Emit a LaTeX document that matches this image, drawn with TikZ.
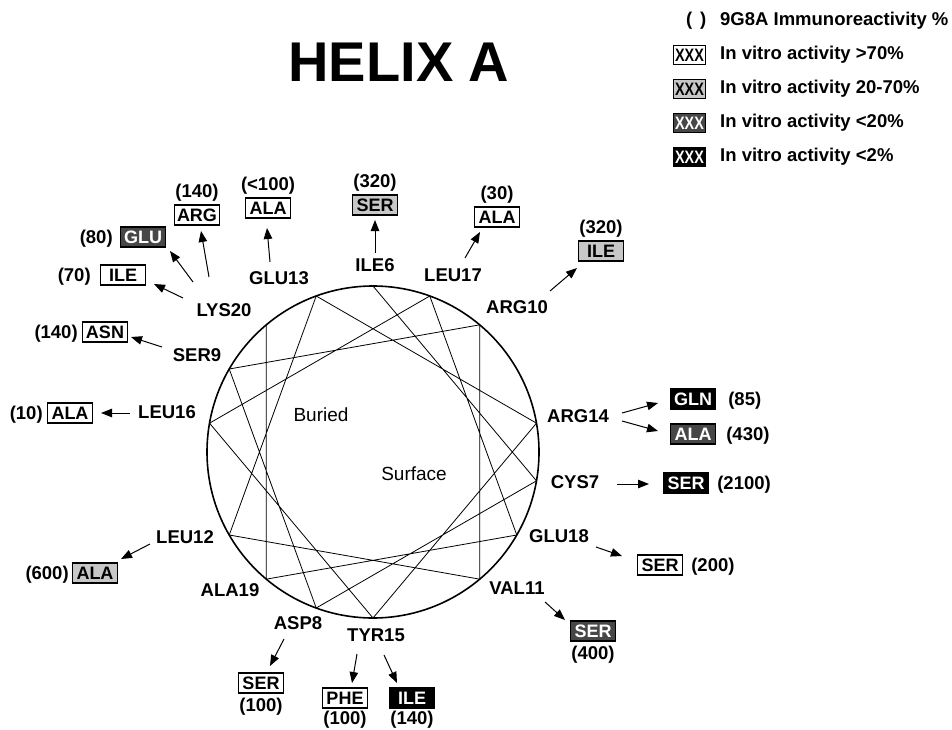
\documentclass[tikz,border=0pt]{standalone}
\usepackage{fontspec}
\setmainfont{Liberation Sans}
\newfontfamily\keyfont[FakeStretch=0.8]{Liberation Sans}
\usetikzlibrary{arrows.meta, positioning}

\begin{document}
\begin{tikzpicture}[
  x=1pt, y=-1pt,
  node distance=4pt,
  res/.style={font=\bfseries\fontsize{18.5}{20}\selectfont, inner sep=0pt, text height=13pt, text depth=0pt},
  val/.style={font=\bfseries\fontsize{18.5}{20}\selectfont, inner sep=0pt, text height=13pt, text depth=0pt},
  mut/.style={draw, line width=1.2pt, font=\bfseries\fontsize{18}{20}\selectfont, minimum width=45pt, minimum height=20pt, inner sep=0pt, text height=13pt, text depth=0pt},
  full/.style={fill=white},
  part/.style={fill=black!22},
  weak/.style={fill=black!72, text=white},
  null/.style={fill=black, text=white},
  keybox/.style={draw, line width=1.2pt, font=\keyfont\bfseries\fontsize{18}{18}\selectfont, minimum height=19pt, inner xsep=1.5pt, inner ysep=0pt, text height=12.5pt, text depth=0pt},
  key/.style={font=\bfseries\fontsize{18.5}{20}\selectfont, inner sep=0pt, anchor=west},
  arrow/.style={-{Triangle[length=11pt,width=8.5pt]}, line width=1pt},
  chord/.style={line width=0.8pt}
]
\useasboundingbox (0,0) rectangle (952,730);

\node[font=\bfseries\fontsize{56}{60}\selectfont] (title) at (399,62) {HELIX A};

% legend
\node[key] (k1) at (720,21) {9G8A Immunoreactivity \%};
\node[key] (k2) at (720,55) {In vitro activity >70\%};
\node[key] (k3) at (720,89) {In vitro activity 20-70\%};
\node[key] (k4) at (720,123) {In vitro activity <20\%};
\node[key] (k5) at (720,157) {In vitro activity <2\%};
\node[key] (kl) at (686,21) {(};
\node[key] (kr) at (700,21) {)};
\node[keybox, full, left=14pt of k2] (b2) {XXX};
\node[keybox, part, left=14pt of k3] (b3) {XXX};
\node[keybox, weak, left=14pt of k4] (b4) {XXX};
\node[keybox, null, left=14pt of k5] (b5) {XXX};

% helical wheel, 100 degrees per residue
\coordinate (c) at (373,452);
\foreach \n in {6,...,20}
  \coordinate (p\n) at ({373+166*cos(90-100*(\n-6))},{452-166*sin(90-100*(\n-6))});
\draw[chord] (p6) \foreach \n in {7,...,20} { -- (p\n) };
\draw[line width=1.6pt] (c) circle (166pt);

\node[font=\fontsize{19}{20}\selectfont] (buried) at (321,415) {Buried};
\node[font=\fontsize{19}{20}\selectfont] (surface) at (414,474) {Surface};

% residues
\node[res] (ile6)  at (375,265) {ILE6};
\node[res] (cys7)  at (575,482) {CYS7};
\node[res] (asp8)  at (298,623) {ASP8};
\node[res] (ser9)  at (197,355) {SER9};
\node[res] (arg10) at (517,307) {ARG10};
\node[res] (val11) at (517,588) {VAL11};
\node[res] (leu12) at (185,537) {LEU12};
\node[res] (glu13) at (279,278) {GLU13};
\node[res] (arg14) at (578,416) {ARG14};
\node[res] (tyr15) at (376,635) {TYR15};
\node[res] (leu16) at (167,412) {LEU16};
\node[res] (leu17) at (453,275) {LEU17};
\node[res] (glu18) at (559,536) {GLU18};
\node[res] (ala19) at (230,590) {ALA19};
\node[res] (lys20) at (224,310) {LYS20};

% substitutions
\node[mut, part] (ile6ser)  at (375,205) {SER};
\node[mut, full] (leu17ala) at (497,217) {ALA};
\node[mut, part] (arg10ile) at (601,251) {ILE};
\node[mut, full] (glu13ala) at (268,208) {ALA};
\node[mut, full] (lys20arg) at (197,215) {ARG};
\node[mut, weak] (lys20glu) at (143,237) {GLU};
\node[mut, full] (lys20ile) at (123,275) {ILE};
\node[mut, full] (ser9asn)  at (105,332) {ASN};
\node[mut, full] (leu16ala) at (70,413) {ALA};
\node[mut, part] (leu12ala) at (95,573) {ALA};
\node[mut, full] (asp8ser)  at (261,683) {SER};
\node[mut, full] (tyr15phe) at (345,698) {PHE};
\node[mut, null] (tyr15ile) at (412,698) {ILE};
\node[mut, weak] (val11ser) at (593,631) {SER};
\node[mut, full] (glu18ser) at (660,565) {SER};
\node[mut, null] (cys7ser)  at (686,483) {SER};
\node[mut, null] (arg14gln) at (693,399) {GLN};
\node[mut, weak] (arg14ala) at (693,434) {ALA};

% immunoreactivity
\node[val, above=7pt of ile6ser]  (ile6serval)  {(320)};
\node[val, above=7pt of leu17ala] (leu17alaval) {(30)};
\node[val, above=7pt of arg10ile] (arg10ileval) {(320)};
\node[val, above=7pt of glu13ala] (glu13alaval) {(<100)};
\node[val, above=7pt of lys20arg] (lys20argval) {(140)};
\node[val, left=7pt of lys20glu]  (lys20gluval) {(80)};
\node[val, left=9pt of lys20ile]  (lys20ileval) {(70)};
\node[val, left=4pt of ser9asn]   (ser9asnval)  {(140)};
\node[val, left=4pt of leu16ala]  (leu16alaval) {(10)};
\node[val, left=3pt of leu12ala]  (leu12alaval) {(600)};
\node[val, below=5pt of asp8ser]  (asp8serval)  {(100)};
\node[val, below=3pt of tyr15phe] (tyr15pheval) {(100)};
\node[val, below=3pt of tyr15ile] (tyr15ileval) {(140)};
\node[val, below=5pt of val11ser] (val11serval) {(400)};
\node[val, right=8pt of glu18ser] (glu18serval) {(200)};
\node[val, right=8pt of cys7ser]  (cys7serval)  {(2100)};
\node[val, right=12pt of arg14gln] (arg14glnval) {(85)};
\node[val, right=10pt of arg14ala] (arg14alaval) {(430)};

\draw[arrow] ([shift={(0,-12)}]ile6.center) -- ([shift={(0,15)}]ile6ser.center);
\draw[arrow] ([shift={(12,-17)}]leu17.center) -- ([shift={(-17,15)}]leu17ala.center);
\draw[arrow] ([shift={(33,-16)}]arg10.center) -- ([shift={(-24,17)}]arg10ile.center);
\draw[arrow] ([shift={(-9,-16)}]glu13.center) -- ([shift={(-1,20)}]glu13ala.center);
\draw[arrow] ([shift={(-15,-33)}]lys20.center) -- ([shift={(4,16)}]lys20arg.center);
\draw[arrow] ([shift={(-31,-28)}]lys20.center) -- ([shift={(27,14)}]lys20glu.center);
\draw[arrow] ([shift={(-41,-12)}]lys20.center) -- ([shift={(31,9)}]lys20ile.center);
\draw[arrow] ([shift={(-35,-8)}]ser9.center) -- ([shift={(26,5)}]ser9asn.center);
\draw[arrow] ([shift={(-37,1)}]leu16.center) -- ([shift={(31,0)}]leu16ala.center);
\draw[arrow] ([shift={(-35,7)}]leu12.center) -- ([shift={(26,-14)}]leu12ala.center);
\draw[arrow] ([shift={(-14,16)}]asp8.center) -- ([shift={(9,-17)}]asp8ser.center);
\draw[arrow] ([shift={(-19,19)}]tyr15.center) -- ([shift={(7,-15)}]tyr15phe.center);
\draw[arrow] ([shift={(8,20)}]tyr15.center) -- ([shift={(-15,-15)}]tyr15ile.center);
\draw[arrow] ([shift={(28,14)}]val11.center) -- ([shift={(-28,-11)}]val11ser.center);
\draw[arrow] ([shift={(37,11)}]glu18.center) -- ([shift={(-38,-9)}]glu18ser.center);
\draw[arrow] ([shift={(42,2)}]cys7.center) -- ([shift={(-37,1)}]cys7ser.center);
\draw[arrow] ([shift={(44,-3)}]arg14.center) -- ([shift={(-35,4)}]arg14gln.center);
\draw[arrow] ([shift={(44,5)}]arg14.center) -- ([shift={(-35,-3)}]arg14ala.center);

\end{tikzpicture}
\end{document}
